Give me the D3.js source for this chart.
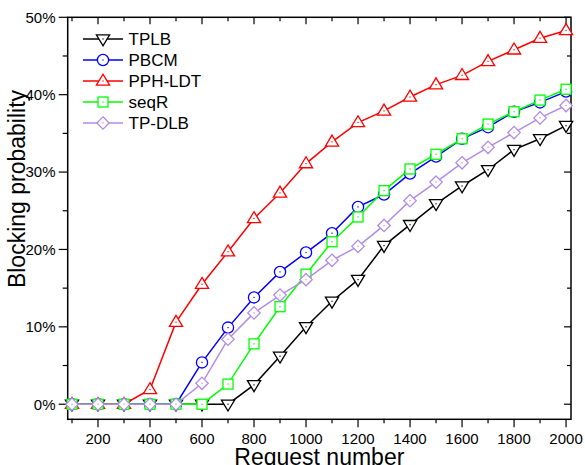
<!DOCTYPE html>
<html><head><meta charset="utf-8">
<script src="https://cdn.jsdelivr.net/npm/d3@7"></script>
<style>html,body{margin:0;padding:0;background:#fff;}svg{display:block;font-family:"Liberation Sans",Arial,sans-serif;}</style>
</head><body>
<svg id="c" width="585" height="465"></svg>
<script>
const requests = [100,200,300,400,500,600,700,800,900,1000,1100,1200,1300,1400,1500,1600,1700,1800,1900,2000];
const xTickLabels = [200,400,600,800,1000,1200,1400,1600,1800,2000];
const yTickLabels = [0,10,20,30,40,50];
const seriesNames = ["TPLB","PBCM","PPH-LDT","seqR","TP-DLB"];
const tplb   = [0,0,0,0,0,0,0,2.5,6.2,10.0,13.3,16.1,20.5,23.2,25.9,28.2,30.3,32.9,34.3,36.0];
const pbcm   = [0,0,0,0,0,5.4,9.9,13.8,17.1,19.6,22.1,25.5,27.1,29.8,32.0,34.3,35.8,37.8,39.0,40.4];
const pphldt = [0,0,0,1.9,10.6,15.5,19.7,24.0,27.3,31.1,33.9,36.4,37.9,39.7,41.3,42.5,44.3,45.8,47.3,48.3];
const seqr   = [0,0,0,0,0,0,2.6,7.8,12.6,16.8,21.0,24.2,27.6,30.4,32.3,34.3,36.2,37.8,39.3,40.7];
const tpdlb  = [0,0,0,0,0,2.7,8.4,11.8,14.1,16.1,18.6,20.4,23.1,26.3,28.7,31.2,33.2,35.1,37.0,38.6];

const seriesValues = [tplb,pbcm,pphldt,seqr,tpdlb];
const colors = ["#000000","#0000ff","#ff0000","#00ff00","#b28ce6"];
const shapes = ["tri-down","circle","tri-up","square","diamond"];

const svg = d3.select("#c");
const L = 67.7, R = 571, T = 17.3, B = 419.3;
const x = d3.scaleLinear().domain([83.5, 2019]).range([L, R]);
const y = d3.scaleLinear().domain([-1.95, 50]).range([B, T]);

// frame
svg.append("rect").attr("x",L).attr("y",T).attr("width",R-L).attr("height",B-T)
  .attr("fill","none").attr("stroke","#000").attr("stroke-width",1.5);

const xTicksAll = d3.range(100,2001,100);
const yTicksAll = d3.range(0,51,5);
const tk = svg.append("g").attr("stroke","#000").attr("stroke-width",1.2);
xTicksAll.forEach(v=>{
  const major = v%200===0;
  const px = x(v);
  tk.append("line").attr("x1",px).attr("x2",px).attr("y1",B).attr("y2",B+(major?8:4));
  tk.append("line").attr("x1",px).attr("x2",px).attr("y1",T).attr("y2",T+(major?7:4));
});
yTicksAll.forEach(v=>{
  const major = v%10===0;
  const py = y(v);
  tk.append("line").attr("x1",L).attr("x2",L-(major?9:5)).attr("y1",py).attr("y2",py);
  tk.append("line").attr("x1",R).attr("x2",R-(major?7:4)).attr("y1",py).attr("y2",py);
});

// tick labels
svg.append("g").selectAll("text").data(xTickLabels).join("text")
  .attr("x",d=>x(d)).attr("y",444).attr("text-anchor","middle")
  .attr("font-size",15).attr("fill","#000").text(d=>d);
svg.append("g").selectAll("text").data(yTickLabels).join("text")
  .attr("x",55.5).attr("y",d=>y(d)).attr("dy","0.36em").attr("text-anchor","end")
  .attr("font-size",15).attr("fill","#000").text(d=>d+"%");

// axis titles
svg.append("text").attr("x",(L+R)/2).attr("y",464.5).attr("text-anchor","middle")
  .attr("font-size",23).attr("fill","#000").text("Request number");
svg.append("text").attr("transform","translate(25,189) rotate(-90)").attr("text-anchor","middle")
  .attr("font-size",23).attr("fill","#000").text("Blocking probability");

function drawMarker(g, shape, color, cx, cy){
  let el;
  if(shape==="circle"){
    el = g.append("circle").attr("cx",cx).attr("cy",cy).attr("r",5.6);
  } else if(shape==="square"){
    el = g.append("rect").attr("x",cx-5).attr("y",cy-5).attr("width",10).attr("height",10);
  } else if(shape==="diamond"){
    const s=6.2;
    el = g.append("path").attr("d",`M${cx},${cy-s}L${cx+s},${cy}L${cx},${cy+s}L${cx-s},${cy}Z`);
  } else if(shape==="tri-up"){
    const h=11, w=6.6;
    el = g.append("path").attr("d",`M${cx},${cy-h*0.62}L${cx+w},${cy+h*0.38}L${cx-w},${cy+h*0.38}Z`);
  } else {
    const h=11, w=6.6;
    el = g.append("path").attr("d",`M${cx},${cy+h*0.62}L${cx+w},${cy-h*0.38}L${cx-w},${cy-h*0.38}Z`);
  }
  el.attr("fill","#fff").attr("stroke",color).attr("stroke-width",1.3);
  g.append("rect").attr("x",cx-0.6).attr("y",cy-0.6).attr("width",1.2).attr("height",1.2).attr("fill",color);
}

const line = d3.line().x((d,i)=>x(requests[i])).y(d=>y(d));
seriesValues.forEach((vals,si)=>{
  const g = svg.append("g");
  g.append("path").attr("d",line(vals)).attr("fill","none")
    .attr("stroke",colors[si]).attr("stroke-width",1.5);
  vals.forEach((v,i)=>drawMarker(g,shapes[si],colors[si],x(requests[i]),y(v)));
});

// legend
const lg = svg.append("g");
seriesNames.forEach((n,i)=>{
  const ry = 39 + i*21;
  lg.append("line").attr("x1",83).attr("x2",123).attr("y1",ry).attr("y2",ry)
    .attr("stroke",colors[i]).attr("stroke-width",1.5);
  drawMarker(lg,shapes[i],colors[i],103,ry);
  lg.append("text").attr("x",128.5).attr("y",ry).attr("dy","0.36em")
    .attr("font-size",17).attr("fill","#000").text(n);
});
</script>
</body></html>
